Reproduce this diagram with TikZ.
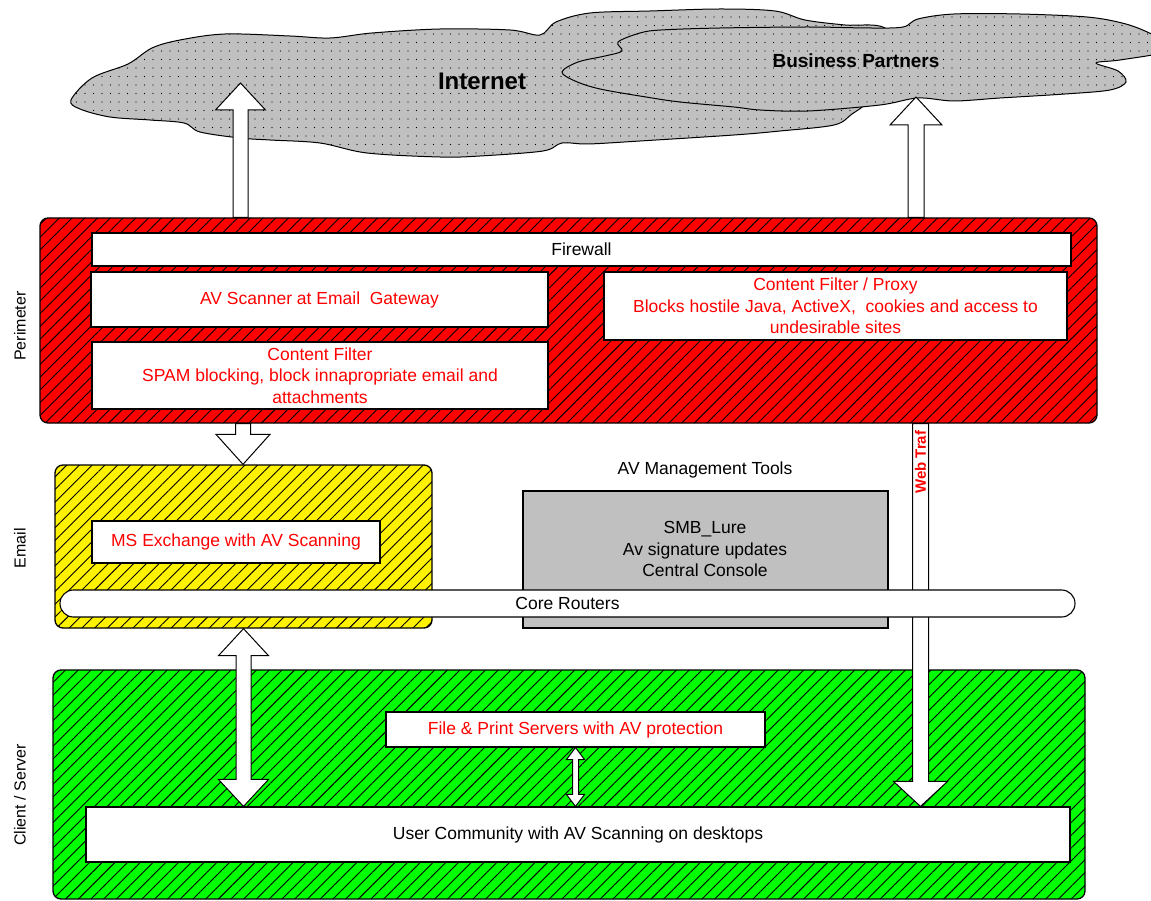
\documentclass[tikz,border=0pt]{standalone}
\usepackage{fontspec}
\setmainfont{Liberation Sans}
\usetikzlibrary{patterns.meta,calc}
\newcommand\diaglbl{\fontsize{17.5}{21.5}\selectfont}
% block arrow: tail, tip, half shaft, half head, head length
\newcommand\blockarrow[5]{\draw[barrow] let \p1=#1, \p2=#2, \n1={ifthenelse(\y2>\y1,1,-1)} in
 (\x1-#3,\y1) -- (\x1-#3,\y2-\n1*#5) -- (\x1-#4,\y2-\n1*#5) -- (\x1,\y2) -- (\x1+#4,\y2-\n1*#5) -- (\x1+#3,\y2-\n1*#5) -- (\x1+#3,\y1) -- cycle;}
% double block arrow: tip1, tip2, half shaft, half head, head length
\newcommand\dblarrow[5]{\draw[barrow] let \p1=#1, \p2=#2, \n1={ifthenelse(\y2>\y1,1,-1)} in
 (\x1,\y1) -- (\x1+#4,\y1+\n1*#5) -- (\x1+#3,\y1+\n1*#5) -- (\x1+#3,\y2-\n1*#5) -- (\x1+#4,\y2-\n1*#5) -- (\x1,\y2)
 -- (\x1-#4,\y2-\n1*#5) -- (\x1-#3,\y2-\n1*#5) -- (\x1-#3,\y1+\n1*#5) -- (\x1-#4,\y1+\n1*#5) -- cycle;}
\definecolor{cloudgray}{RGB}{192,192,192}
\definecolor{boxgray}{RGB}{192,192,192}
\begin{document}
\begin{tikzpicture}[x=1pt,y=-1pt,
  cloudst/.style={draw=black, line width=1pt, fill=cloudgray, postaction={pattern={Dots[distance=8.5pt,radius=0.6pt]}, pattern color=black}},
  barrow/.style={draw=black, line width=1pt, fill=white, line join=miter},
  panel/.style={draw=black, line width=1.3pt, rounded corners=8pt, inner sep=0pt, postaction={pattern={Lines[angle=45,distance=9pt,line width=0.9pt]}, pattern color=black}},
  wbox/.style={draw=black, line width=1.1pt, fill=white, inner sep=2pt, align=center, font=\diaglbl},
  redtxt/.style={text=red},
  side/.style={rotate=90, font=\fontsize{16}{16}\selectfont},
]
\useasboundingbox (0,0) rectangle (1151,901);
\clip (0,0) rectangle (1151,901);

% clouds
\draw[cloudst] plot[smooth cycle, tension=0.55] coordinates {
 (71,100) (92,78) (128,64) (152,48) (180,40) (225,34) (290,36) (330,38) (372,33) (440,29) (510,30) (540,35)
 (556,22) (590,13) (650,11) (720,9) (775,11) (805,20) (845,25) (885,28) (905,60) (870,100)
 (852,114) (834,125) (780,131) (734,135) (640,141) (588,144) (562,143) (543,151) (480,156) (440,157)
 (367,153) (320,143) (270,140) (240,138) (200,132) (184,123) (150,120) (110,117) (80,109)};
\node[font=\bfseries\fontsize{24}{24}\selectfont] (internet) at (482,81) {Internet};
\draw[cloudst] plot[smooth cycle, tension=0.55] coordinates {
 (562,72) (578,62) (605,56) (622,51) (618,42) (640,33) (661,30) (720,28) (808,27) (870,28) (903,27)
 (918,19) (954,14) (1020,14) (1087,17) (1122,23) (1145,31) (1165,42) (1165,52) (1120,60) (1096,63) (1118,71)
 (1126,82) (1110,90) (1065,94) (1000,98) (954,101) (918,98) (880,105) (808,111) (760,110) (734,107)
 (680,102) (646,97) (600,89) (575,81)};
\node[font=\bfseries\fontsize{19}{19}\selectfont] (partners) at (856,61) {Business Partners};

% perimeter
\node[panel, fill=red, minimum width=1057pt, minimum height=205pt] (perim) at (568.5,320.5) {};
\node[wbox, minimum width=979pt, minimum height=33pt] (firewall) at (581.5,249.5) {Firewall};
\node[wbox, redtxt, minimum width=457pt, minimum height=55pt] (avscan) at (319.5,299.5) {AV Scanner at Email\ \ Gateway};
\node[wbox, redtxt, minimum width=456pt, minimum height=67pt] (cfilter) at (320,375.5) {Content Filter\\SPAM blocking, block innapropriate email and\\attachments};
\node[wbox, redtxt, minimum width=463pt, minimum height=68pt] (proxy) at (835.5,306) {Content Filter / Proxy\\Blocks hostile Java, ActiveX,\ \ cookies and access to\\undesirable sites};

% arrows to the clouds
\blockarrow{([xshift=-328pt]perim.north)}{(240,83)}{7.5pt}{25pt}{27pt}
\blockarrow{([xshift=347.5pt]perim.north)}{(916,97)}{8pt}{26pt}{28pt}

% email
\node[panel, fill=yellow, minimum width=377pt, minimum height=163pt] (email) at (243.5,546.5) {};
\node[wbox, redtxt, minimum width=288pt, minimum height=42pt] (msx) at (236,542) {MS Exchange with AV Scanning};
\blockarrow{([xshift=-325.5pt]perim.south)}{(email.north)}{7.5pt}{27pt}{30pt}

% management
\node[font=\diaglbl] (mgmt) at (705,470) {AV Management Tools};
\node[draw=black, line width=1.1pt, fill=boxgray, minimum width=365pt, minimum height=137pt] (gray) at (705.5,559.5) {};
\node[font=\diaglbl, align=center] (graytext) at (705,549) {SMB\_Lure\\Av signature updates\\Central Console};

% client / server
\node[panel, fill=green, minimum width=1032pt, minimum height=229pt] (cs) at (569,784.5) {};
\node[wbox, redtxt, minimum width=379pt, minimum height=35pt] (filep) at (575.5,729.5) {File \& Print Servers with AV protection};
\node[wbox, minimum width=984pt, minimum height=55pt] (user) at (578,834.5) {User Community with AV Scanning on desktops};

% web traffic
\blockarrow{([xshift=352pt]perim.south)}{([xshift=342.5pt]user.north)}{8pt}{27pt}{25pt}
\node[rotate=90, anchor=west, text=red, font=\bfseries\fontsize{15}{15}\selectfont, inner sep=0pt] (web) at (920.5,494) {Web Traf};

% core routers
\node[wbox, rounded corners=13.5pt, minimum width=1015pt, minimum height=27pt, inner sep=0pt] (core) at (567.5,603.5) {Core Routers};

% double arrows
\dblarrow{(email.south)}{([xshift=-335.5pt]user.north)}{7.5pt}{25pt}{27pt}
\dblarrow{(filep.south)}{([xshift=-2.5pt]user.north)}{3pt}{9pt}{12pt}

% side labels
\node[side] (lperim) at (20,326) {Perimeter};
\node[side] (lemail) at (20,548) {Email};
\node[side] (lcs) at (20,795) {Client / Server};
\end{tikzpicture}
\end{document}
